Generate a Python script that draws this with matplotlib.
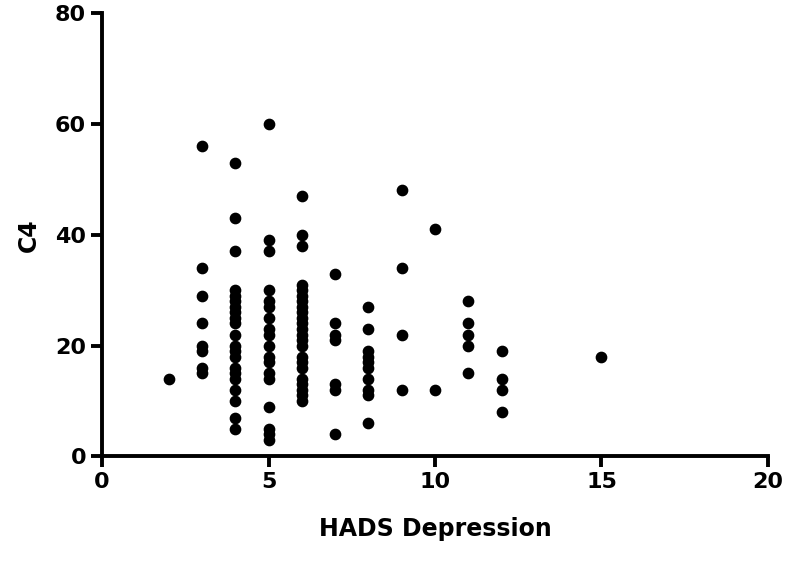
import numpy as np
import matplotlib.pyplot as plt

hads = {
    2: [14],
    3: [56, 34, 29, 24, 20, 19, 16, 15],
    4: [53, 43, 37, 30, 29, 28, 27, 26, 25, 24, 22, 20, 19, 18, 16, 15, 14, 12, 10, 7, 5],
    5: [60, 39, 37, 30, 28, 27, 25, 23, 22, 20, 18, 17, 15, 14, 9, 5, 4, 3],
    6: [47, 40, 38, 31, 30, 29, 28, 27, 26, 25, 24, 23, 22, 21, 20, 18, 17, 16, 14, 13, 12, 11, 10],
    7: [33, 24, 22, 21, 13, 12, 4],
    8: [27, 23, 19, 18, 17, 16, 14, 12, 11, 6],
    9: [48, 34, 22, 12],
    10: [41, 12],
    11: [28, 24, 22, 20, 15],
    12: [19, 14, 12, 8],
    15: [18],
}

x = []
y = []
for k, vals in hads.items():
    x += [k] * len(vals)
    y += vals

plt.rcParams['font.family'] = 'DejaVu Sans'
fig = plt.figure(figsize=(7.86, 5.67), dpi=100)
ax = fig.add_axes([0.13, 0.195, 0.847, 0.782])
ax.scatter(x, y, s=55, color='black', zorder=3, clip_on=False)
ax.set_xlim(0, 20)
ax.set_ylim(0, 80)
ax.set_xticks(np.arange(0, 21, 5))
ax.set_yticks(np.arange(0, 81, 20))
for s in ['top', 'right']:
    ax.spines[s].set_visible(False)
for s in ['left', 'bottom']:
    ax.spines[s].set_linewidth(2.8)
ax.tick_params(width=2.8, length=8, labelsize=16)
for lab in ax.get_xticklabels() + ax.get_yticklabels():
    lab.set_fontweight('bold')
ax.set_xlabel('HADS Depression', fontsize=17, fontweight='bold', labelpad=18)
ax.set_ylabel('C4', fontsize=17, fontweight='bold', labelpad=10)
fig.savefig('out.png', dpi=100)
